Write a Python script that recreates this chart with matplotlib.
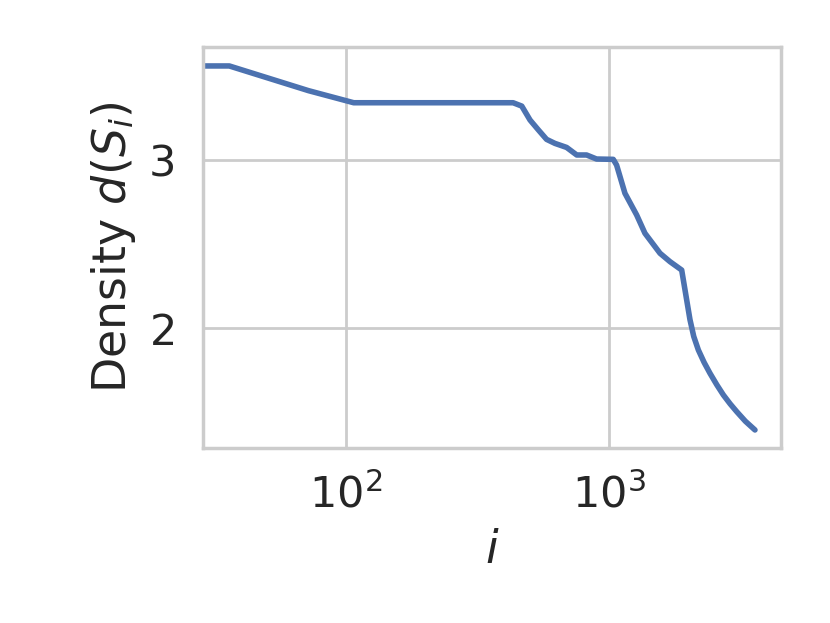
import numpy as np
import matplotlib
matplotlib.use("Agg")
from matplotlib import pyplot as plt
import seaborn as sns

# values (x on log scale)
idx = [28, 36, 72, 107, 432, 466, 501, 539, 579, 623, 690, 754, 822, 897,
       1038, 1069, 1150, 1274, 1370, 1563, 1706, 1890, 1946, 2032, 2100,
       2187, 2300, 2422, 2570, 2723, 2890, 3060, 3300, 3590]
density = [3.56, 3.56, 3.413, 3.341, 3.341, 3.321, 3.238, 3.179, 3.123,
           3.099, 3.075, 3.030, 3.030, 3.006, 3.004, 2.970, 2.802, 2.673,
           2.564, 2.445, 2.395, 2.345, 2.226, 2.050, 1.950, 1.869, 1.795,
           1.730, 1.662, 1.601, 1.548, 1.502, 1.445, 1.393]

sns.set_theme(style="whitegrid", context="notebook")

fig = plt.figure(figsize=(4.15, 3.115), dpi=200)
ax = fig.add_axes([0.2446, 0.281, 0.6964, 0.6436])

ax.plot(idx, density, color="#4c72b0", linewidth=2.0)
ax.set_xscale("log")
ax.set_xlim(28.6, 4510)
ax.set_ylim(1.286, 3.673)
ax.set_yticks([2, 3])
ax.tick_params(labelsize=15.5)
ax.minorticks_off()

ax.set_xlabel("$i$", fontsize=16.5)
ax.set_ylabel("Density $d(S_i)$", fontsize=16.5)

fig.savefig("out.png", dpi=200)
